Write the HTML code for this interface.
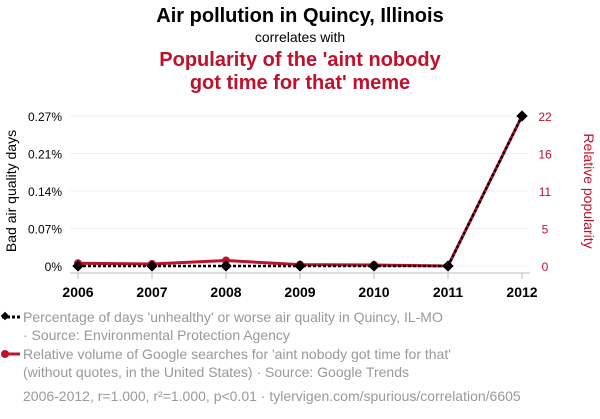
<!DOCTYPE html>
<html><head><meta charset="utf-8"><style>
body{margin:0;background:#fff;width:600px;height:414px;overflow:hidden;font-family:"Liberation Sans",sans-serif}
</style></head><body>
<svg id="c" width="600" height="414" xmlns="http://www.w3.org/2000/svg" font-family="Liberation Sans, sans-serif">
<text x="300" y="22" text-anchor="middle" font-size="20" font-weight="bold" fill="#000">Air pollution in Quincy, Illinois</text>
<text x="300" y="42" text-anchor="middle" font-size="14" fill="#000">correlates with</text>
<text x="300" y="66" text-anchor="middle" font-size="20" font-weight="bold" fill="#c0102b">Popularity of the 'aint nobody</text>
<text x="300" y="89" text-anchor="middle" font-size="20" font-weight="bold" fill="#c0102b">got time for that' meme</text>
<text transform="translate(16,191) rotate(-90)" text-anchor="middle" font-size="14" fill="#000">Bad air quality days</text>
<text transform="translate(584,191) rotate(90)" text-anchor="middle" font-size="14" fill="#c0102b">Relative popularity</text>
<g id="grid"></g><g id="axes"></g><g id="series"></g>
<g>
<line x1="2" y1="317" x2="20" y2="317" stroke="#000" stroke-width="3" stroke-dasharray="3,2"/>
<rect x="2" y="313" width="6" height="6" fill="#000" transform="rotate(45 5 316)"/>
<text x="23" y="322" font-size="14" fill="#999">Percentage of days 'unhealthy' or worse air quality in Quincy, IL-MO</text>
<text x="23" y="340" font-size="14" fill="#999">· Source: Environmental Protection Agency</text>
</g>
<g>
<line x1="2" y1="354" x2="20" y2="354" stroke="#c0102b" stroke-width="3"/>
<circle cx="5" cy="354" r="4" fill="#c0102b"/>
<text x="23" y="359" font-size="14" fill="#999">Relative volume of Google searches for 'aint nobody got time for that'</text>
<text x="23" y="377" font-size="14" fill="#999">(without quotes, in the United States) · Source: Google Trends</text>
</g>
<text x="23" y="401" font-size="14" fill="#999">2006-2012, r=1.000, r²=1.000, p&lt;0.01 · tylervigen.com/spurious/correlation/6605</text>
</svg>
<script>
const years=[2006,2007,2008,2009,2010,2011,2012];
const airValues=[0,0,0,0,0,0,0.27];
const googleValues=[0.4,0.3,0.8,0.2,0.15,0,22];
const leftTicks=[0,0.0675,0.135,0.2025,0.27];
const leftTickLabels=["0%","0.07%","0.14%","0.21%","0.27%"];
const rightTicks=[0,5.5,11,16.5,22];
const rightTickLabels=["0","5","11","16","22"];
const NS="http://www.w3.org/2000/svg";
const x=y=>78+(y-2006)*74;
const yl=v=>266-v/0.27*150;
const yr=v=>266-v/22*150;
function mk(t,a,p){const e=document.createElementNS(NS,t);for(const k in a)e.setAttribute(k,a[k]);p.appendChild(e);return e;}
const grid=document.getElementById('grid'),axes=document.getElementById('axes'),ser=document.getElementById('series');
leftTicks.forEach((v,i)=>{
 const g=mk('line',{x1:70,x2:528,y1:yl(v),y2:yl(v),stroke:'#f0f0f0','stroke-width':1},grid);
 
 
 const t=mk('text',{x:62,y:yl(v)+5,'text-anchor':'end','font-size':12,fill:'#000'},axes);
 t.textContent=leftTickLabels[i];
 
 
});
rightTicks.forEach((v,i)=>{
 const t=mk('text',{x:545,y:yr(v)+5,'text-anchor':'middle','font-size':12,fill:'#c0102b'},axes);
 t.textContent=rightTickLabels[i];
 
 
});
const base=mk('line',{x1:70,x2:530,y1:273,y2:273,stroke:'#bbb','stroke-width':1},axes);


years.forEach(yv=>{
 const tk=mk('line',{x1:x(yv),x2:x(yv),y1:273,y2:279,stroke:'#bbb'},axes);
 
 
 const t=mk('text',{x:x(yv),y:297,'text-anchor':'middle','font-size':14,'font-weight':'bold',fill:'#000'},axes);
 t.textContent=yv;
 
 
});
const rp=mk('polyline',{points:years.map((y,i)=>x(y)+','+yr(googleValues[i])).join(' '),fill:'none',stroke:'#c0102b','stroke-width':3},ser);


years.forEach((y,i)=>{
 const c=mk('circle',{cx:x(y),cy:yr(googleValues[i]),r:4,fill:'#c0102b'},ser);
 
 
});
const bp=mk('polyline',{points:years.map((y,i)=>x(y)+','+yl(airValues[i])).join(' '),fill:'none',stroke:'#000','stroke-width':2.5,'stroke-dasharray':'3,2'},ser);


years.forEach((y,i)=>{
 const cx=x(y),cy=yl(airValues[i]);
 const d=mk('rect',{x:cx-4,y:cy-4,width:8,height:8,fill:'#000',transform:`rotate(45 ${cx} ${cy})`},ser);
 
 
});
</script>
</body></html>
